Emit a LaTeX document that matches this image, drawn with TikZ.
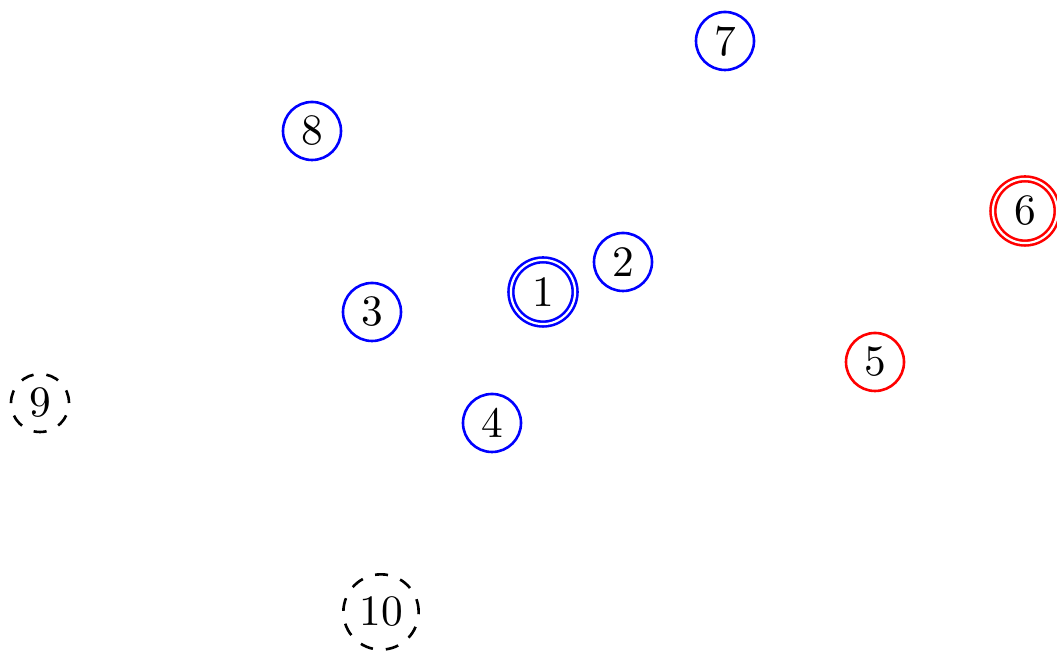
\documentclass[tikz,border=0pt]{standalone}
\usepackage{tikz}
\usetikzlibrary{positioning}

\begin{document}
\begin{tikzpicture}[
				x=0.0081cm, y=-0.0081cm,
				texts/.style = {text=black},
				vertex/.style = {texts, circle, semithick, inner sep=0pt, minimum size=0.47cm},
				inset/.style = {vertex, draw=blue},
				outset/.style = {vertex, draw=red},
				start/.style = {double, double distance=0.5pt, minimum size=0.52cm},
				loose/.style = {vertex, draw=black, dashed}
				]
				\useasboundingbox (0,0) rectangle (1057,651);
				\node[inset, start] (v1) at (543,292) {1};
				\node[inset] (v2) at (623,262) {2};
				\node[inset] (v3) at (372,312) {3};
				\node[inset] (v4) at (492,423) {4};
				\node[outset] (v5) at (875,362) {5};
				\node[outset, start] (v6) at (1025,211) {6};
				\node[inset] (v7) at (725,41) {7};
				\node[inset] (v8) at (312,131) {8};
				\node[loose] (v9) at (40,403) {9};
				\node[loose, minimum size=0.61cm] (v10) at (381,612) {10};
				\end{tikzpicture}
\end{document}
